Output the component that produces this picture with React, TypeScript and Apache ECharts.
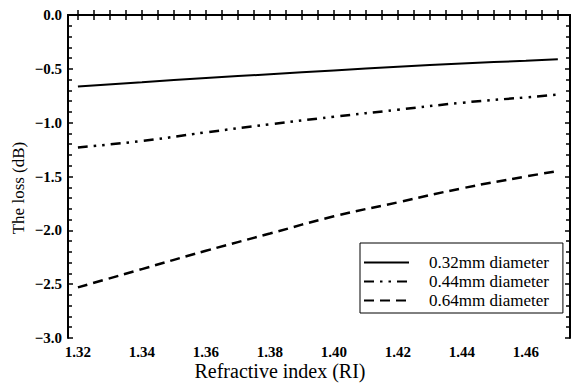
import React, { useEffect, useRef } from "react";
import * as echarts from "echarts";

const riValues = [1.32, 1.34, 1.36, 1.38, 1.4, 1.42, 1.44, 1.46, 1.47];
const loss032 = [-0.665, -0.625, -0.585, -0.55, -0.515, -0.48, -0.45, -0.425, -0.41];
const loss044 = [-1.23, -1.17, -1.09, -1.015, -0.945, -0.88, -0.815, -0.765, -0.74];
const loss064 = [-2.53, -2.36, -2.19, -2.03, -1.87, -1.74, -1.61, -1.5, -1.45];
const seriesNames = ["0.32mm diameter", "0.44mm diameter", "0.64mm diameter"];
const xTickLabels = [1.32, 1.34, 1.36, 1.38, 1.4, 1.42, 1.44, 1.46];
const xMinorStep = 0.005;
const xMin = 1.3169;
const xMax = 1.4738;

const xTicks: number[] = [];
for (let i = 0; i <= 31; i++) xTicks.push(Math.round((1.32 + i * xMinorStep) * 1000) / 1000);

const FONT = "'Liberation Serif', 'Times New Roman', serif";

export default function App() {
  const ref = useRef<HTMLDivElement>(null);
  useEffect(() => {
    if (!ref.current) return;
    const chart = echarts.init(ref.current, undefined, { renderer: "svg" });
    const axisLine = { show: true, lineStyle: { color: "#000", width: 2 } };
    const mk = (vals: number[]) => riValues.map((x, i) => [x, vals[i]]);
    const xBase = {
      type: "value",
      min: xMin,
      max: xMax,
      axisLine,
      splitLine: { show: false },
    };
    const yBase = {
      type: "value",
      min: -3,
      max: 0,
      interval: 0.5,
      axisLine,
      splitLine: { show: false },
      axisTick: { show: true, inside: true, length: 5, lineStyle: { color: "#000", width: 1.5 } },
      minorTick: { show: true, splitNumber: 5, length: 4, lineStyle: { color: "#000", width: 1.5 } },
    };
    chart.setOption({
      animation: false,
      backgroundColor: "#fff",
      grid: { left: 68, right: 1, top: 15, bottom: 49, containLabel: false },
      xAxis: [
        {
          ...xBase,
          position: "bottom",
          axisTick: {
            show: true,
            inside: true,
            length: 5,
            customValues: xTicks,
            lineStyle: { color: "#000", width: 1.5 },
          },
          axisLabel: {
            show: true,
            customValues: xTickLabels,
            formatter: (v: number) => v.toFixed(2),
            color: "#000",
            fontFamily: FONT,
            fontWeight: "bold",
            fontSize: 15,
            margin: 6,
          },
        },
        {
          ...xBase,
          position: "top",
          axisTick: {
            show: true,
            inside: true,
            length: 5,
            customValues: xTicks,
            lineStyle: { color: "#000", width: 1.5 },
          },
          axisLabel: { show: false },
        },
      ],
      yAxis: [
        {
          ...yBase,
          position: "left",
          axisLabel: {
            show: true,
            formatter: (v: number) => v.toFixed(1).replace("-", "\u2212"),
            color: "#000",
            fontFamily: FONT,
            fontWeight: "bold",
            fontSize: 15,
            margin: 6,
          },
        },
        {
          ...yBase,
          position: "right",
          axisLabel: { show: false },
        },
      ],
      legend: {
        orient: "vertical",
        left: 360,
        top: 243,
        data: seriesNames,
        itemWidth: 45,
        itemHeight: 14,
        itemGap: 2,
        padding: [11, 14, 4, 3],
        borderColor: "#000",
        borderWidth: 1,
        backgroundColor: "#fff",
        itemStyle: { opacity: 0, color: "transparent", borderWidth: 0 },
        textStyle: {
          fontFamily: FONT,
          fontSize: 17,
          color: "#000",
          padding: [0, 0, 0, 15],
        },
      },
      graphic: [
        {
          type: "text",
          x: 18,
          y: 188,
          rotation: Math.PI / 2,
          style: {
            text: "The loss (dB)",
            fontFamily: FONT,
            fontSize: 17,
            fill: "#000",
            align: "center",
            verticalAlign: "middle",
          },
        },
        {
          type: "text",
          x: 280,
          y: 371,
          style: {
            text: "Refractive index (RI)",
            fontFamily: FONT,
            fontSize: 20,
            fill: "#000",
            align: "center",
            verticalAlign: "middle",
          },
        },
      ],
      series: [
        {
          name: seriesNames[0],
          type: "line",
          data: mk(loss032),
          smooth: true,
          symbol: "none",
          lineStyle: { color: "#000", width: 2 },
          itemStyle: { color: "#000" },
        },
        {
          name: seriesNames[1],
          type: "line",
          data: mk(loss044),
          smooth: true,
          symbol: "none",
          lineStyle: { color: "#000", width: 2.5, type: [10, 6, 2.5, 6, 2.5, 6] },
          itemStyle: { color: "#000" },
        },
        {
          name: seriesNames[2],
          type: "line",
          data: mk(loss064),
          smooth: true,
          symbol: "none",
          lineStyle: { color: "#000", width: 2.5, type: [10, 6] },
          itemStyle: { color: "#000" },
        },
      ],
    });
    return () => chart.dispose();
  }, []);
  return (
    <div
      ref={ref}
      style={{ position: "fixed", left: 0, top: 0, width: 571, height: 387 }}
    />
  );
}
